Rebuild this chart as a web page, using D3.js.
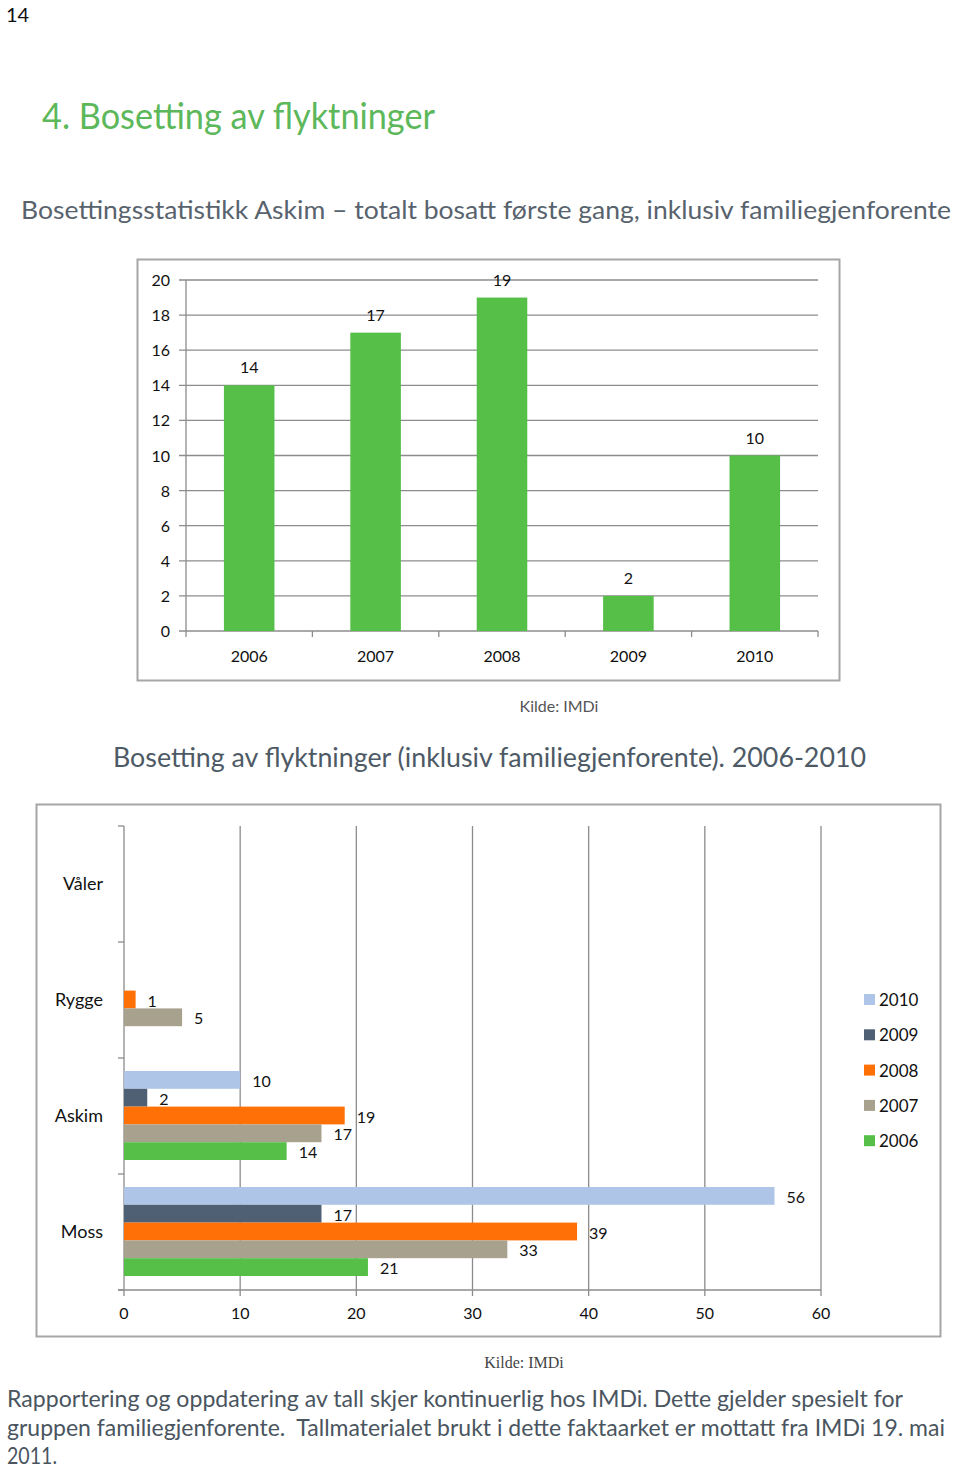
<!DOCTYPE html>
<html><head><meta charset="utf-8">
<script src="https://cdn.jsdelivr.net/npm/d3@7"></script>
<style>
body{margin:0;background:#fff;}
svg text{font-family:Lato,"Open Sans",sans-serif;}
</style></head>
<body>
<script>
// ---- data ----
const years1 = ["2006","2007","2008","2009","2010"];
const values1 = [14,17,19,2,10];
const yTicks1 = [0,2,4,6,8,10,12,14,16,18,20];

const municipalities = ["Våler","Rygge","Askim","Moss"];
const seriesYears = ["2010","2009","2008","2007","2006"];
const v2010 = [0,0,10,56];
const v2009 = [0,0,2,17];
const v2008 = [0,1,19,39];
const v2007 = [0,5,17,33];
const v2006 = [0,0,14,21];
const xTicks2 = [0,10,20,30,40,50,60];
const seriesColors = ["#afc5e8","#4f6075","#ff7106","#a8a18d","#55bf47"];

const W=960,H=1469;
const svg=d3.select("body").append("svg").attr("width",W).attr("height",H);

// page number & headings
svg.append("text").attr("x",6).attr("y",22).attr("font-size",20).attr("fill","#111").text("14");
svg.append("text").attr("x",42).attr("y",129).attr("font-size",36).attr("fill","#5cb85a")
  .attr("textLength",393).attr("lengthAdjust","spacingAndGlyphs").text("4. Bosetting av flyktninger");
svg.append("text").attr("x",21).attr("y",219).attr("font-size",25).attr("fill","#58636e")
  .attr("textLength",930).attr("lengthAdjust","spacingAndGlyphs")
  .text("Bosettingsstatistikk Askim – totalt bosatt første gang, inklusiv familiegjenforente");

// ---- chart 1 ----
svg.append("rect").attr("x",137.5).attr("y",259.5).attr("width",702).attr("height",421)
  .attr("fill","#fff").attr("stroke","#a6a6a6").attr("stroke-width",2);
const x1=d3.scaleBand().domain(years1).range([186,818]).paddingInner(0.6).paddingOuter(0.3);
const y1=d3.scaleLinear().domain([0,20]).range([631,280]);
const g1=svg.append("g");
g1.selectAll("line.grid").data(yTicks1).join("line")
  .attr("x1",179).attr("x2",818).attr("y1",d=>y1(d)).attr("y2",d=>y1(d))
  .attr("stroke","#8c8c8c").attr("stroke-width",1.3);
g1.append("line").attr("x1",186).attr("x2",186).attr("y1",280).attr("y2",631).attr("stroke","#8c8c8c").attr("stroke-width",1.3);
const bounds=d3.range(years1.length+1).map(i=>x1.range()[0]+i*x1.step());
g1.selectAll("line.tk").data(bounds).join("line")
  .attr("x1",d=>d).attr("x2",d=>d).attr("y1",631).attr("y2",637).attr("stroke","#8c8c8c").attr("stroke-width",1.3);
g1.selectAll("text.yl").data(yTicks1).join("text")
  .attr("x",170).attr("y",d=>y1(d)+6).attr("text-anchor","end").attr("font-size",16).attr("fill","#111").text(d=>d);
g1.selectAll("rect.bar").data(values1).join("rect")
  .attr("x",(d,i)=>x1(years1[i])).attr("width",x1.bandwidth())
  .attr("y",d=>y1(d)).attr("height",d=>y1(0)-y1(d)).attr("fill","#55bf47");
g1.selectAll("text.vl").data(values1).join("text")
  .attr("x",(d,i)=>x1(years1[i])+x1.bandwidth()/2).attr("y",d=>y1(d)-12)
  .attr("text-anchor","middle").attr("font-size",16).attr("fill","#111").text(d=>d);
g1.selectAll("text.xl").data(years1).join("text")
  .attr("x",d=>x1(d)+x1.bandwidth()/2).attr("y",662).attr("text-anchor","middle")
  .attr("font-size",16).attr("fill","#111").text(d=>d);

svg.append("text").attr("x",559).attr("y",712).attr("text-anchor","middle").attr("font-size",16)
  .attr("fill","#555").text("Kilde: IMDi");
svg.append("text").attr("x",113).attr("y",767).attr("font-size",27).attr("fill","#4d5a66")
  .attr("textLength",753).attr("lengthAdjust","spacingAndGlyphs")
  .text("Bosetting av flyktninger (inklusiv familiegjenforente). 2006-2010");

// ---- chart 2 ----
svg.append("rect").attr("x",36.5).attr("y",804.5).attr("width",904).attr("height",532)
  .attr("fill","#fff").attr("stroke","#a6a6a6").attr("stroke-width",2);
const x2=d3.scaleLinear().domain([0,60]).range([124,821]);
const y2=d3.scaleBand().domain(municipalities).range([826,1290]);
const yin=d3.scaleBand().domain(seriesYears).range([13,102]);
const seriesVals=[v2010,v2009,v2008,v2007,v2006];
const g2=svg.append("g");
g2.selectAll("line.vg").data(xTicks2.slice(1)).join("line")
  .attr("x1",d=>x2(d)).attr("x2",d=>x2(d)).attr("y1",826).attr("y2",1296)
  .attr("stroke","#8c8c8c").attr("stroke-width",1.3);
g2.append("line").attr("x1",124).attr("x2",124).attr("y1",826).attr("y2",1296).attr("stroke","#8c8c8c").attr("stroke-width",1.3);
g2.append("line").attr("x1",118).attr("x2",821).attr("y1",1290).attr("y2",1290).attr("stroke","#8c8c8c").attr("stroke-width",1.3);
const cb=d3.range(municipalities.length+1).map(i=>y2.range()[0]+i*y2.step());
g2.selectAll("line.ct").data(cb).join("line")
  .attr("x1",118).attr("x2",124).attr("y1",d=>d).attr("y2",d=>d).attr("stroke","#8c8c8c").attr("stroke-width",1.3);
g2.selectAll("text.xl").data(xTicks2).join("text")
  .attr("x",d=>x2(d)).attr("y",1319).attr("text-anchor","middle").attr("font-size",16).attr("fill","#111").text(d=>d);
g2.selectAll("text.cl").data(municipalities).join("text")
  .attr("x",103).attr("y",d=>y2(d)+y2.bandwidth()/2+6).attr("text-anchor","end")
  .attr("font-size",18).attr("fill","#111").text(d=>d);
seriesYears.forEach((yr,si)=>{
  const vals=seriesVals[si];
  const data=municipalities.map((m,i)=>({m,v:vals[i]})).filter(d=>d.v>0);
  g2.selectAll(null).data(data).join("rect")
    .attr("x",x2(0)).attr("y",d=>y2(d.m)+yin(yr)).attr("width",d=>x2(d.v)-x2(0))
    .attr("height",yin.bandwidth()).attr("fill",seriesColors[si]);
  g2.selectAll(null).data(data).join("text")
    .attr("x",d=>x2(d.v)+12).attr("y",d=>y2(d.m)+yin(yr)+yin.bandwidth()/2+7)
    .attr("font-size",16).attr("fill","#111").text(d=>d.v);
});
// legend
const lg=svg.append("g");
seriesYears.forEach((yr,i)=>{
  const yy=1000+i*35.3;
  lg.append("rect").attr("x",864).attr("y",yy-6).attr("width",11).attr("height",11).attr("fill",seriesColors[i]);
  lg.append("text").attr("x",879).attr("y",yy+6).attr("font-size",17).attr("fill","#111").text(yr);
});

svg.append("text").attr("x",524).attr("y",1368).attr("text-anchor","middle").attr("font-size",16)
  .style("font-family","'Liberation Serif',serif").attr("fill","#444").text("Kilde: IMDi");

const para=["Rapportering og oppdatering av tall skjer kontinuerlig hos IMDi. Dette gjelder spesielt for",
 "gruppen familiegjenforente.  Tallmaterialet brukt i dette faktaarket er mottatt fra IMDi 19. mai",
 "2011."];
const paraW=[896,938,50];
para.forEach((t,i)=>{
  svg.append("text").attr("x",7).attr("y",1407+i*28.5).attr("font-size",23).attr("fill","#4a5560")
    .attr("textLength",paraW[i]).attr("lengthAdjust","spacingAndGlyphs").attr("xml:space","preserve").text(t);
});
</script>
</body></html>
